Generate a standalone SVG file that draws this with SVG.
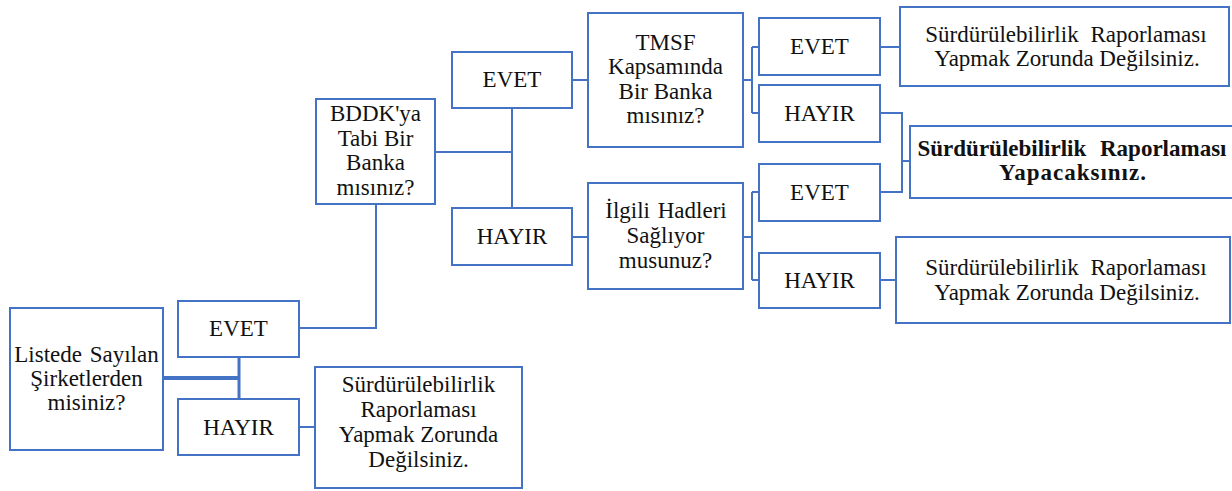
<svg xmlns="http://www.w3.org/2000/svg" width="1232" height="491" viewBox="0 0 1232 491">
<style>
.box{fill:#fff;stroke:#4472C4;stroke-width:2}
.t{font-family:"Liberation Serif","Times New Roman",serif;font-size:23px;fill:#111;text-anchor:middle}
.b{font-weight:bold}
.c{fill:none;stroke:#4472C4;stroke-width:2}
</style>
<rect width="1232" height="491" fill="#fff"/>
<g id="connectors">
<path class="c" d="M163,378 H239" style="stroke-width:4"/>
<path class="c" d="M239,357 V399" style="stroke-width:3"/>
<path class="c" d="M299,328 H376 V204"/>
<path class="c" d="M299,427 H315"/>
<path class="c" d="M435,152 H512 M512,108 V208"/>
<path class="c" d="M572,80 H588 M572,237 H588"/>
<path class="c" d="M743,80 H752 M752,47 V113 M752,47 H759 M752,113 H759"/>
<path class="c" d="M743,237 H752 M752,192 V280 M752,192 H759 M752,280 H759"/>
<path class="c" d="M880,47 H900"/>
<path class="c" d="M880,113 H902 V192 H880 M902,161 H910"/>
<path class="c" d="M880,280 H896"/>
</g>
<g id="n_listede">
<rect class="box" x="10" y="308" width="153" height="142"/>
<text class="t" x="86.5" y="362" word-spacing="2">Listede Sayılan</text>
<text class="t" x="86.5" y="386">Şirketlerden</text>
<text class="t" x="86.5" y="410">misiniz?</text>
</g>
<g id="n_evet1">
<rect class="box" x="178" y="301" width="121" height="56"/>
<text class="t" x="238.5" y="336">EVET</text>
</g>
<g id="n_hayir1">
<rect class="box" x="178" y="399" width="121" height="56"/>
<text class="t" x="238.5" y="435">HAYIR</text>
</g>
<g id="n_res_bl">
<rect class="box" x="315" y="367" width="207" height="121"/>
<text class="t" x="418.5" y="392">Sürdürülebilirlik</text>
<text class="t" x="418.5" y="417">Raporlaması</text>
<text class="t" x="418.5" y="442">Yapmak Zorunda</text>
<text class="t" x="418.5" y="467">Değilsiniz.</text>
</g>
<g id="n_bddk">
<rect class="box" x="316" y="99" width="119" height="105"/>
<text class="t" x="375.5" y="121">BDDK'ya</text>
<text class="t" x="375.5" y="146">Tabi Bir</text>
<text class="t" x="375.5" y="170">Banka</text>
<text class="t" x="375.5" y="195">mısınız?</text>
</g>
<g id="n_evet2">
<rect class="box" x="452" y="52" width="120" height="56"/>
<text class="t" x="512" y="87">EVET</text>
</g>
<g id="n_hayir2">
<rect class="box" x="452" y="208" width="120" height="57"/>
<text class="t" x="512" y="244">HAYIR</text>
</g>
<g id="n_tmsf">
<rect class="box" x="588" y="13" width="155" height="134"/>
<text class="t" x="665.5" y="50">TMSF</text>
<text class="t" x="665.5" y="74">Kapsamında</text>
<text class="t" x="665.5" y="99">Bir Banka</text>
<text class="t" x="665.5" y="123">mısınız?</text>
</g>
<g id="n_ilgili">
<rect class="box" x="588" y="183" width="155" height="106"/>
<text class="t" x="666" y="218" word-spacing="2">İlgili Hadleri</text>
<text class="t" x="665.5" y="243">Sağlıyor</text>
<text class="t" x="665.5" y="268">musunuz?</text>
</g>
<g id="n_evet3">
<rect class="box" x="759" y="18" width="121" height="57"/>
<text class="t" x="819.5" y="54">EVET</text>
</g>
<g id="n_hayir3">
<rect class="box" x="759" y="85" width="121" height="57"/>
<text class="t" x="819.5" y="121">HAYIR</text>
</g>
<g id="n_evet4">
<rect class="box" x="759" y="164" width="121" height="57"/>
<text class="t" x="819.5" y="200">EVET</text>
</g>
<g id="n_hayir4">
<rect class="box" x="759" y="253" width="121" height="55"/>
<text class="t" x="819.5" y="288">HAYIR</text>
</g>
<g id="n_res1">
<rect class="box" x="900" y="7" width="329" height="79"/>
<text class="t" x="1066" y="42" word-spacing="6">Sürdürülebilirlik Raporlaması</text>
<text class="t" x="1067" y="66">Yapmak Zorunda Değilsiniz.</text>
</g>
<g id="n_res_bold">
<rect class="box" x="910" y="126" width="330" height="72"/>
<text class="t b" x="1072" y="156" word-spacing="8">Sürdürülebilirlik Raporlaması</text>
<text class="t b" x="1073" y="180" letter-spacing="1">Yapacaksınız.</text>
</g>
<g id="n_res3">
<rect class="box" x="896" y="237" width="334" height="86"/>
<text class="t" x="1066" y="275" word-spacing="6">Sürdürülebilirlik Raporlaması</text>
<text class="t" x="1067" y="300">Yapmak Zorunda Değilsiniz.</text>
</g>
</svg>
